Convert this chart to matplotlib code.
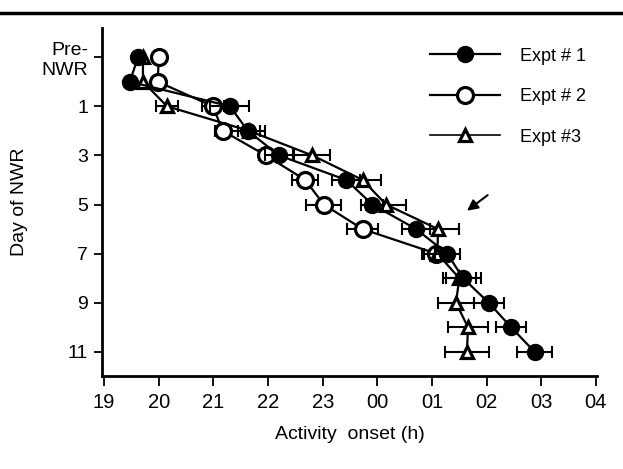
import matplotlib
matplotlib.use("Agg")
import numpy as np
import matplotlib.pyplot as plt
from matplotlib.lines import Line2D

plt.rcParams["font.family"] = ["Liberation Sans", "DejaVu Sans"]

# day -1 stands for the "Pre-NWR" rows (two baseline days: -1 and 0)
days1 = [-1, 0, 1, 2, 3, 4, 5, 6, 7, 8, 9, 10, 11]
onset1 = [19.62, 19.47, 21.30, 21.63, 22.20, 23.43, 23.91, 24.71, 25.28, 25.57, 26.04, 26.45, 26.88]
err1 = [0, 0, 0.36, 0.31, 0.25, 0.26, 0.20, 0.26, 0.23, 0.32, 0.27, 0.27, 0.32]

days2 = [-1, 0, 1, 2, 3, 4, 5, 6, 7]
onset2 = [20.00, 19.98, 20.99, 21.17, 21.96, 22.68, 23.02, 23.73, 25.08]
err2 = [0, 0, 0.20, 0.15, 0.12, 0.24, 0.32, 0.29, 0.27]

days3 = [-1, 0, 1, 2, 3, 4, 5, 6, 7, 8, 9, 10, 11]
onset3 = [19.71, 19.71, 20.15, 21.65, 22.81, 23.73, 24.16, 25.11, 25.10, 25.50, 25.44, 25.66, 25.64]
err3 = [0, 0, 0.20, 0.20, 0.33, 0.33, 0.37, 0.38, 0.25, 0.30, 0.33, 0.37, 0.40]

xticks = [19, 20, 21, 22, 23, 24, 25, 26, 27, 28]
xticklabels = ["19", "20", "21", "22", "23", "00", "01", "02", "03", "04"]
yticks = [-1, 1, 3, 5, 7, 9, 11]
yticklabels = ["Pre-\nNWR", "1", "3", "5", "7", "9", "11"]
labels = ["Expt # 1", "Expt # 2", "Expt #3"]

fig = plt.figure(figsize=(6.23, 4.69), dpi=100)
ax = fig.add_axes([0.1637, 0.1983, 0.7945, 0.7417])

series = [
    (days2, onset2, err2, dict(marker="o", markersize=11.5, markerfacecolor="white",
                               markeredgewidth=2.3), 2),
    (days3, onset3, err3, dict(marker="^", markersize=8, markerfacecolor="white",
                               markeredgewidth=2.3), 3),
    (days1, onset1, err1, dict(marker="o", markersize=11.5, markerfacecolor="black",
                               markeredgewidth=1.0), 4),
]
for d, x, e, mk, z in series:
    d = np.array(d); x = np.array(x); e = np.array(e)
    m = e > 0
    ax.errorbar(x[m], d[m], xerr=e[m], fmt="none", ecolor="black", elinewidth=1.5,
                capsize=4, capthick=1.5, zorder=z)
    ax.plot(x, d, color="black", lw=1.6, markeredgecolor="black", zorder=z + 0.5, **mk)

ax.set_xlim(18.96, 28.02)
ax.set_ylim(11.98, -2.18)
ax.set_xticks(xticks)
ax.set_xticklabels(xticklabels, fontsize=14.5)
ax.set_yticks(yticks)
ax.set_yticklabels(yticklabels, fontsize=14)
ax.tick_params(axis="x", direction="out", length=7, width=1.3, pad=5)
ax.tick_params(axis="y", direction="out", length=6, width=1.3, pad=4)
for s in ["top", "right"]:
    ax.spines[s].set_visible(False)
for s in ["left", "bottom"]:
    ax.spines[s].set_linewidth(2.0)

ax.set_xlabel("Activity  onset (h)", fontsize=14, labelpad=10)
ax.set_ylabel("Day of NWR", fontsize=14, labelpad=10)

# arrow marking the transition around day 5-6
ax.annotate("", xy=(25.60, 5.32), xytext=(26.06, 4.55),
            arrowprops=dict(arrowstyle="-|>", lw=1.5, color="black", mutation_scale=16))

handles = [
    Line2D([], [], color="black", lw=1.6, marker="o", markersize=11.5, markerfacecolor="black"),
    Line2D([], [], color="black", lw=1.6, marker="o", markersize=11.5, markerfacecolor="white",
           markeredgewidth=2.3),
    Line2D([], [], color="black", lw=1.2, marker="^", markersize=8, markerfacecolor="white",
           markeredgewidth=2.3),
]
ax.legend(handles, labels, loc="upper left", bbox_to_anchor=(0.644, 0.97), frameon=False,
          fontsize=13, handlelength=3.9, handletextpad=1.1, labelspacing=1.3,
          borderpad=0, numpoints=1)

# rule across the top of the figure
fig.add_artist(Line2D([0, 1], [0.972, 0.972], color="black", lw=2.5))

fig.savefig("out.png", dpi=100)
